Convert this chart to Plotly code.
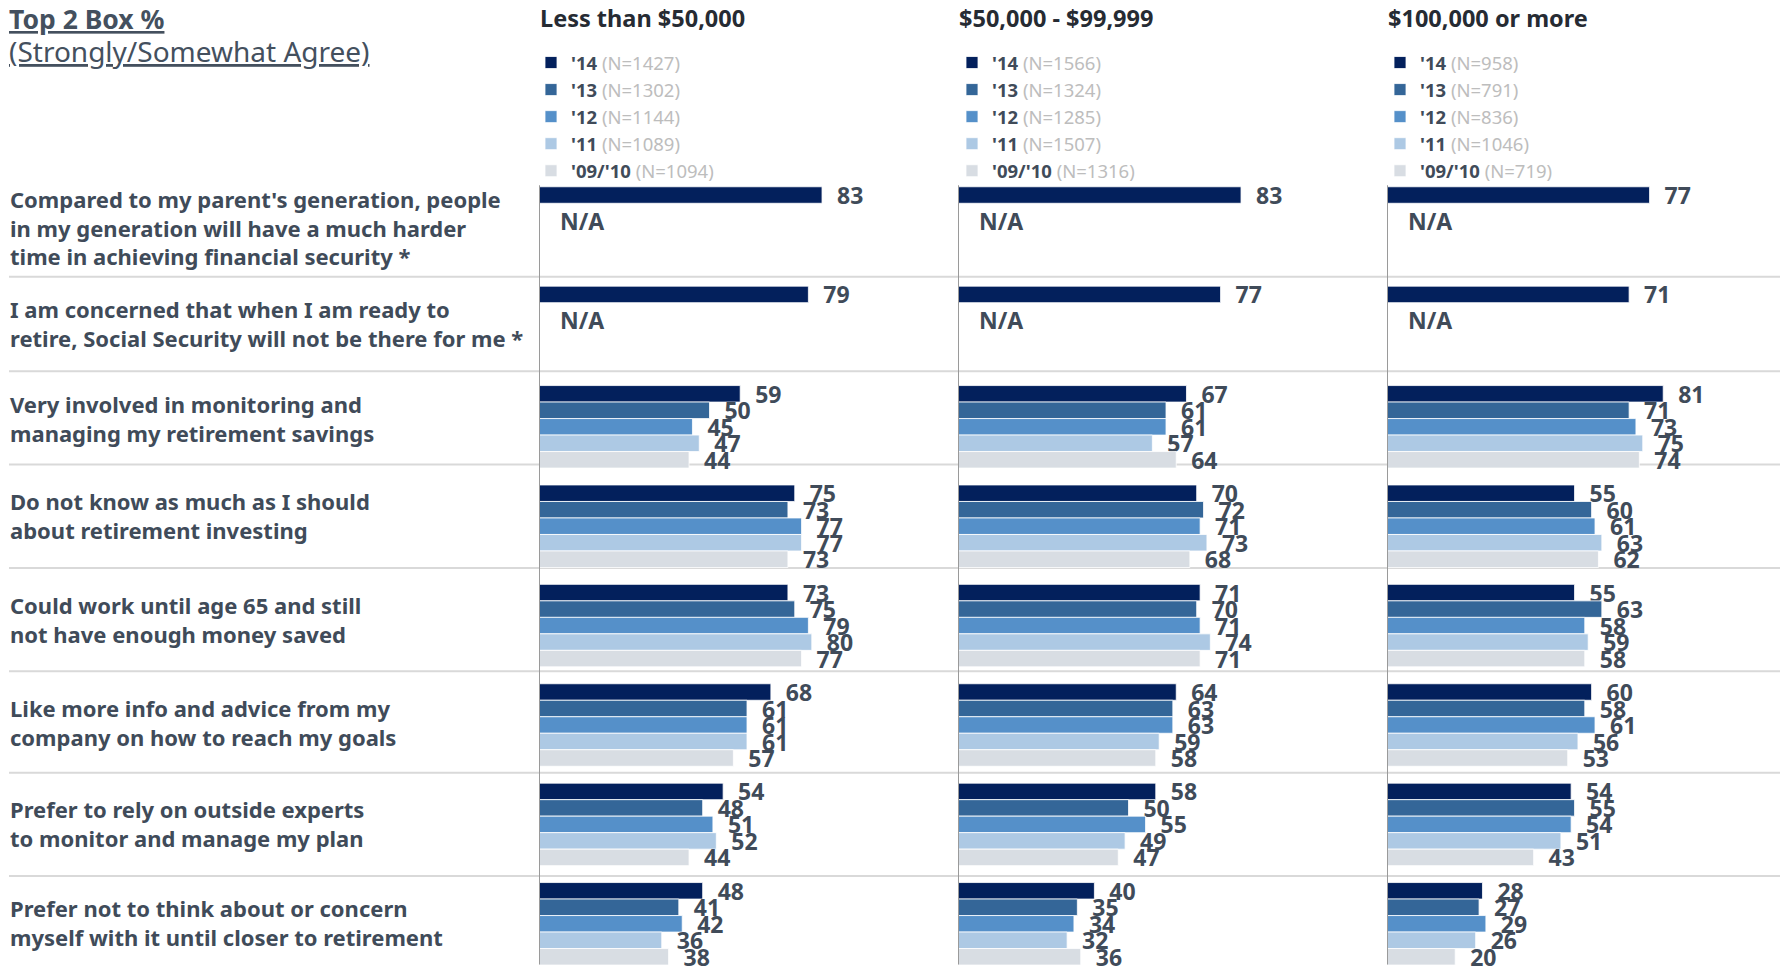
import plotly.graph_objects as go

# ---------------- data ----------------
questions = [
    "Compared to my parent's generation, people<br>in my generation will have a much harder<br>time in achieving financial security *",
    "I am concerned that when I am ready to<br>retire, Social Security will not be there for me *",
    "Very involved in monitoring and<br>managing my retirement savings",
    "Do not know as much as I should<br>about retirement investing",
    "Could work until age 65 and still<br>not have enough money saved",
    "Like more info and advice from my<br>company on how to reach my goals",
    "Prefer to rely on outside experts<br>to monitor and manage my plan",
    "Prefer not to think about or concern<br>myself with it until closer to retirement",
]
series = ["'14", "'13", "'12", "'11", "'09/'10"]
panels = ["Less than $50,000", "$50,000 - $99,999", "$100,000 or more"]

n_less50k = [1427, 1302, 1144, 1089, 1094]
n_50k_100k = [1566, 1324, 1285, 1507, 1316]
n_100k_plus = [958, 791, 836, 1046, 719]

# Less than $50,000
p1_14 = [83, 79, 59, 75, 73, 68, 54, 48]
p1_13 = [None, None, 50, 73, 75, 61, 48, 41]
p1_12 = [None, None, 45, 77, 79, 61, 51, 42]
p1_11 = [None, None, 47, 77, 80, 61, 52, 36]
p1_0910 = [None, None, 44, 73, 77, 57, 44, 38]
# $50,000 - $99,999
p2_14 = [83, 77, 67, 70, 71, 64, 58, 40]
p2_13 = [None, None, 61, 72, 70, 63, 50, 35]
p2_12 = [None, None, 61, 71, 71, 63, 55, 34]
p2_11 = [None, None, 57, 73, 74, 59, 49, 32]
p2_0910 = [None, None, 64, 68, 71, 58, 47, 36]
# $100,000 or more
p3_14 = [77, 71, 81, 55, 55, 60, 54, 28]
p3_13 = [None, None, 71, 60, 63, 58, 55, 27]
p3_12 = [None, None, 73, 61, 58, 61, 54, 29]
p3_11 = [None, None, 75, 63, 59, 56, 51, 26]
p3_0910 = [None, None, 74, 62, 58, 53, 43, 20]

panel_values = [
    [p1_14, p1_13, p1_12, p1_11, p1_0910],
    [p2_14, p2_13, p2_12, p2_11, p2_0910],
    [p3_14, p3_13, p3_12, p3_11, p3_0910],
]
panel_n = [n_less50k, n_50k_100k, n_100k_plus]
na_rows = [0, 1]

# ---------------- style / layout ----------------
W, H = 1783, 975
colors = ["#03205c", "#346698", "#5590c9", "#adc9e4", "#d8dde3"]
TXT = "#404b59"
FONT = "Noto Sans"
PX_PER_UNIT = 3.41
panel_px = [(539, 950), (958, 1380), (1387, 1783)]   # pixel extents, left edge = value 0
legend_px = [531, 952, 1380]
separator_pos = [0.49, 1.44, 2.38, 3.42, 4.46, 5.48, 6.52]  # row divider lines (y axis units)
label_shift = [1, 4, 8, 11, 6, 3, 1, 1]                     # small vertical nudges of row labels

fig = go.Figure()

for pi, (vals_list, ns) in enumerate(zip(panel_values, panel_n)):
    xa = "x" if pi == 0 else f"x{pi + 1}"
    lg = "legend" if pi == 0 else f"legend{pi + 1}"
    for si, (name, vals) in enumerate(zip(series, vals_list)):
        fig.add_trace(go.Bar(
            x=vals,
            y=questions,
            orientation="h",
            name=f"<b>{name}</b> <span style='color:#bdbdbd'>(N={ns[si]})</span>",
            marker=dict(color=colors[si], line=dict(color="white", width=0.8)),
            text=[None if v is None else "\u00a0\u00a0<b>" + str(v) + "</b>" for v in vals],
            textposition="outside",
            constraintext="none",
            cliponaxis=False,
            textfont=dict(family=FONT, size=23, color=TXT),
            xaxis=xa,
            yaxis="y",
            legend=lg,
            hoverinfo="skip",
        ))

layout = dict(
    width=W, height=H,
    margin=dict(l=0, r=0, t=0, b=0, autoexpand=False),
    paper_bgcolor="white", plot_bgcolor="white",
    barmode="group", bargap=0.17, bargroupgap=0,
    font=dict(family=FONT, color=TXT),
    yaxis=dict(type="category", categoryorder="array", categoryarray=questions,
               range=[7.515, -2.294], visible=False, anchor="x", domain=[0, 1]),
)
for pi, (x0, x1) in enumerate(panel_px):
    key = "xaxis" if pi == 0 else f"xaxis{pi + 1}"
    layout[key] = dict(domain=[x0 / W, x1 / W], range=[0, (x1 - x0) / PX_PER_UNIT],
                       visible=False, anchor="y", fixedrange=True)
    lkey = "legend" if pi == 0 else f"legend{pi + 1}"
    layout[lkey] = dict(x=legend_px[pi] / W, xanchor="left", y=1 - 44 / H, yanchor="top",
                        bgcolor="rgba(0,0,0,0)", borderwidth=0, traceorder="normal",
                        font=dict(family=FONT, size=18.5, color=TXT), tracegroupgap=0)
fig.update_layout(**layout)

shapes = []
for sp in separator_pos:
    shapes.append(dict(type="line", xref="paper", yref="y", x0=9 / W, x1=1780 / W,
                       y0=sp, y1=sp, layer="below", line=dict(color="#d9d9d9", width=2)))
for pi in range(3):
    xa = "x" if pi == 0 else f"x{pi + 1}"
    shapes.append(dict(type="line", xref=xa, yref="y", x0=0, x1=0, y0=-0.43, y1=7.41,
                       line=dict(color="#9a9a9a", width=2)))
fig.update_layout(shapes=shapes)

ann = []
ann.append(dict(text="<b><u>Top 2 Box %</u></b>", xref="paper", yref="paper",
                x=7 / W, y=1 - 19 / H, xanchor="left", yanchor="middle", showarrow=False,
                font=dict(family=FONT, size=26.5, color="#44505e")))
ann.append(dict(text="<u>(Strongly/Somewhat Agree)</u>", xref="paper", yref="paper",
                x=7 / W, y=1 - 51 / H, xanchor="left", yanchor="middle", showarrow=False,
                font=dict(family=FONT, size=28, color="#44505e")))
for pi, title in enumerate(panels):
    ann.append(dict(text=f"<b>{title}</b>", xref="paper", yref="paper",
                    x=(panel_px[pi][0] - 1) / W, y=1 - 18 / H, xanchor="left", yanchor="middle",
                    showarrow=False, font=dict(family=FONT, size=23.5, color="#262b33")))
for qi, q in enumerate(questions):
    ann.append(dict(text=f"<b>{q}</b>", xref="paper", yref="y", x=8 / W, y=q,
                    xanchor="left", yanchor="middle", align="left", showarrow=False,
                    yshift=label_shift[qi],
                    font=dict(family=FONT, size=22, color=TXT)))
for pi in range(3):
    xa = "x" if pi == 0 else f"x{pi + 1}"
    for r in na_rows:
        ann.append(dict(text="<b>N/A</b>", xref=xa, yref="y", x=0, y=questions[r],
                        xanchor="left", yanchor="middle", xshift=19, yshift=7, showarrow=False,
                        font=dict(family=FONT, size=23, color=TXT)))
fig.update_layout(annotations=ann)

fig.write_html("out.html", config={"displayModeBar": False},
               post_script="document.body.style.margin='0';document.body.style.overflow='hidden';")
